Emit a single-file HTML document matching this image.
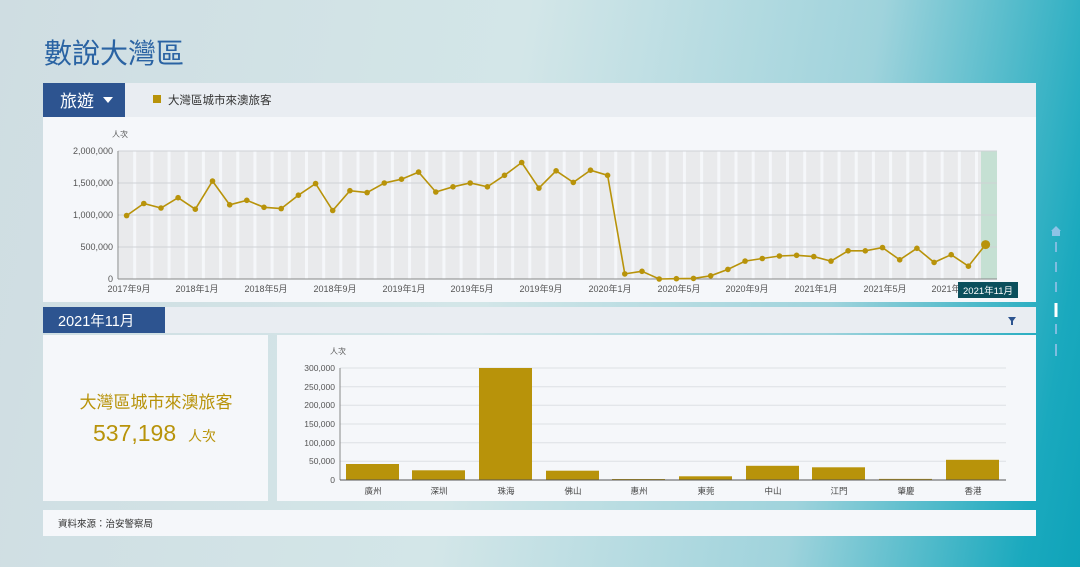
<!DOCTYPE html>
<html><head><meta charset="utf-8"><style>
body{margin:0;width:1080px;height:567px;overflow:hidden;font-family:"Liberation Sans","Noto Sans CJK TC",sans-serif;}
#bg{position:absolute;left:0;top:0;width:1080px;height:567px;background:linear-gradient(100deg,#cfdde2 0%,#d3e6e8 45%,#9fd3dc 75%,#1aa9be 95%,#0fa3b9 100%);}
svg{position:absolute;left:0;top:0}
</style></head><body><div id="bg"></div>
<svg width="1080" height="567" xmlns="http://www.w3.org/2000/svg" font-family="Liberation Sans, Noto Sans CJK TC, sans-serif">
<text x="44" y="63" font-size="28" fill="#2a63a3">數說大灣區</text>
<rect x="43" y="83" width="993" height="34" fill="#e9edf2"/>
<rect x="43" y="117" width="993" height="185" fill="#f5f7fa"/>
<rect x="43" y="83" width="82" height="34" fill="#2d5490"/>
<text x="60" y="107" font-size="17" fill="#fff">旅遊</text>
<path d="M103 97 L113 97 L108 103 Z" fill="#fff"/>
<rect x="153" y="95" width="8" height="8" fill="#b8930a"/>
<text x="168" y="104" font-size="11.5" fill="#333">大灣區城市來澳旅客</text>
<g id="bands"></g>
<rect x="981" y="151" width="16" height="128" fill="#c5e0d3"/>
<g stroke="#cfd2d6" stroke-width="1">
<line x1="118" y1="151" x2="997" y2="151"/><line x1="118" y1="183" x2="997" y2="183"/><line x1="118" y1="215" x2="997" y2="215"/><line x1="118" y1="247" x2="997" y2="247"/>
</g>
<line x1="118" y1="151" x2="118" y2="279" stroke="#888"/>
<line x1="118" y1="279" x2="997" y2="279" stroke="#888"/>
<g font-size="9" fill="#555" text-anchor="end">
<text x="113" y="154">2,000,000</text><text x="113" y="186">1,500,000</text><text x="113" y="218">1,000,000</text><text x="113" y="250">500,000</text><text x="113" y="282">0</text>
</g>
<text x="112" y="137" font-size="8" fill="#555">人次</text>
<g font-size="9" fill="#555" text-anchor="middle">
<text x="129" y="292">2017年9月</text><text x="197" y="292">2018年1月</text><text x="266" y="292">2018年5月</text><text x="335" y="292">2018年9月</text><text x="404" y="292">2019年1月</text><text x="472" y="292">2019年5月</text><text x="541" y="292">2019年9月</text><text x="610" y="292">2020年1月</text><text x="679" y="292">2020年5月</text><text x="747" y="292">2020年9月</text><text x="816" y="292">2021年1月</text><text x="885" y="292">2021年5月</text><text x="953" y="292">2021年9月</text>
</g>
<g id="line"></g>
<rect x="958" y="282" width="60" height="16" fill="#0b4f5c"/>
<text x="988" y="294" font-size="9.5" fill="#fff" text-anchor="middle">2021年11月</text>
<rect x="43" y="307" width="993" height="26" fill="#e9edf2"/>
<rect x="43" y="307" width="122" height="26" fill="#2d5490"/>
<text x="58" y="326" font-size="14.5" fill="#fff">2021年11月</text>
<path d="M1008 317 L1016 317 L1013 321 L1013 325 L1011 325 L1011 321 Z" fill="#2d5490"/>
<rect x="43" y="335" width="225" height="166" fill="#f5f7fa"/>
<rect x="277" y="335" width="759" height="166" fill="#f5f7fa"/>
<text x="156" y="408" font-size="17" fill="#b8930a" text-anchor="middle">大灣區城市來澳旅客</text>
<text x="93" y="441" font-size="23" fill="#b8930a">537,198</text>
<text x="188" y="441" font-size="14" fill="#b8930a">人次</text>
<text x="330" y="354" font-size="8" fill="#555">人次</text>
<g stroke="#dde0e4"><line x1="340" y1="368" x2="1006" y2="368"/><line x1="340" y1="386.7" x2="1006" y2="386.7"/><line x1="340" y1="405.3" x2="1006" y2="405.3"/><line x1="340" y1="424" x2="1006" y2="424"/><line x1="340" y1="442.7" x2="1006" y2="442.7"/><line x1="340" y1="461.3" x2="1006" y2="461.3"/></g>
<g font-size="8.5" fill="#555" text-anchor="end">
<text x="335" y="371">300,000</text><text x="335" y="390">250,000</text><text x="335" y="408">200,000</text><text x="335" y="427">150,000</text><text x="335" y="446">100,000</text><text x="335" y="464">50,000</text><text x="335" y="483">0</text>
</g>
<g fill="#b8930a">
<rect x="346" y="464" width="53" height="16"/><rect x="412" y="470.3" width="53" height="9.7"/><rect x="479" y="368" width="53" height="112"/><rect x="546" y="470.7" width="53" height="9.3"/><rect x="612" y="479" width="53" height="1"/><rect x="679" y="476.3" width="53" height="3.7"/><rect x="746" y="465.8" width="53" height="14.2"/><rect x="812" y="467.3" width="53" height="12.7"/><rect x="879" y="478.9" width="53" height="1.1"/><rect x="946" y="459.8" width="53" height="20.2"/>
</g>
<line x1="340" y1="368" x2="340" y2="480" stroke="#888"/>
<line x1="340" y1="480" x2="1006" y2="480" stroke="#555"/>
<g font-size="8.5" fill="#444" text-anchor="middle">
<text x="373" y="494">廣州</text><text x="439" y="494">深圳</text><text x="506" y="494">珠海</text><text x="573" y="494">佛山</text><text x="639" y="494">惠州</text><text x="706" y="494">東莞</text><text x="773" y="494">中山</text><text x="839" y="494">江門</text><text x="906" y="494">肇慶</text><text x="973" y="494">香港</text>
</g>
<rect x="43" y="510" width="993" height="26" fill="#f5f7fa"/>
<text x="58" y="527" font-size="9.5" fill="#333">資料來源：治安警察局</text>
<path d="M1051 231 L1056 226 L1061 231 L1060 231 L1060 236 L1052 236 L1052 231 Z" fill="#8ec3e6"/>
<g stroke="#7fbde0" stroke-width="2"><line x1="1056" y1="242" x2="1056" y2="252"/><line x1="1056" y1="262" x2="1056" y2="272"/><line x1="1056" y1="282" x2="1056" y2="292"/><line x1="1056" y1="324" x2="1056" y2="334"/><line x1="1056" y1="344" x2="1056" y2="356"/></g>
<line x1="1056" y1="303" x2="1056" y2="317" stroke="#fff" stroke-width="3"/>
</svg>
<script>
var v=[0.99,1.18,1.11,1.27,1.09,1.53,1.16,1.23,1.12,1.10,1.31,1.49,1.07,1.38,1.35,1.50,1.56,1.67,1.36,1.44,1.50,1.44,1.62,1.82,1.42,1.69,1.51,1.70,1.62,0.08,0.12,0,0.005,0.01,0.05,0.15,0.28,0.32,0.36,0.37,0.35,0.28,0.44,0.44,0.49,0.30,0.48,0.26,0.38,0.20,0.537];
var ns="http://www.w3.org/2000/svg",w=17.18,b=document.getElementById('bands'),l=document.getElementById('line');
function el(t,a,p){var e=document.createElementNS(ns,t);for(var k in a)e.setAttribute(k,a[k]);p.appendChild(e);return e;}
var pts=[];
for(var i=0;i<51;i++){var x0=118+i*w;el('rect',{x:x0+1,y:151,width:w-3,height:128,fill:'#e9eaec'},b);
var x=x0+w/2,y=279-v[i]*64;pts.push(x.toFixed(1)+','+y.toFixed(1));}
el('polyline',{points:pts.join(' '),fill:'none',stroke:'#b8930a','stroke-width':1.6},l);
pts.forEach(function(p,i){var q=p.split(',');el('circle',{cx:q[0],cy:q[1],r:i==50?4.5:2.8,fill:'#b8930a'},l);});
</script>
</body></html>
